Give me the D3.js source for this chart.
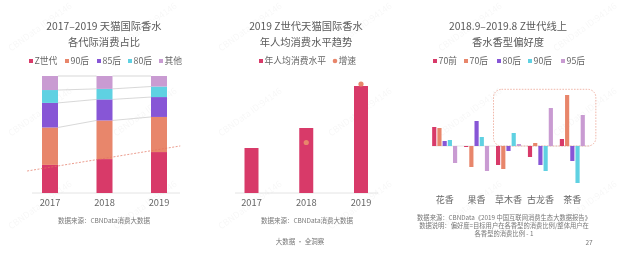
<!DOCTYPE html>
<html>
<head>
<meta charset="utf-8">
<script src="https://cdn.jsdelivr.net/npm/d3@7"></script>
<style>
  html, body { margin: 0; padding: 0; background: #fff; }
  svg { display: block; font-family: "Noto Sans CJK SC", "Noto Sans", sans-serif; }
</style>
</head>
<body>
<svg id="chart" width="625" height="255"></svg>
<script>
// ---- panel 1: share of consumption by generation (%)
const years = [2017, 2018, 2019]
const genNames = ["Z世代", "90后", "85后", "80后", "其他"]
const genZ = [24, 29, 35]
const gen90 = [32, 33, 30]
const gen85 = [21, 18, 17]
const gen80 = [11, 9, 9]
const genOther = [12, 11, 9]
const trendYears = [2016.58, 2019.39]   // red dashed trend line ends
const trendVals = [18.8, 40.2]

// ---- panel 2: per capita spend (index) and growth
const spendNames = ["年人均消费水平", "增速"]
const perCapita = [45, 65, 107]
const growth = [null, 0.44, 0.66]

// ---- panel 3: scent preference by age group
const scents = ["花香", "果香", "草木香", "古龙香", "茶香"]
const ageNames = ["70前", "70后", "80后", "90后", "95后"]
const pre70 = [0.19, -0.01, -0.19, -0.11, 0.07]
const post70 = [0.18, -0.21, -0.23, 0.03, 0.51]
const post80 = [0.05, 0.25, -0.05, -0.19, -0.15]
const post90 = [0.06, 0.09, 0.13, -0.25, -0.37]
const post95 = [-0.17, -0.25, 0.02, 0.38, 0.31]

const c5 = ["#d83a69", "#e8866b", "#8756d6", "#5fd1e2", "#c99bd2"]
const textCol = "#5a5a5a"

const svg = d3.select("#chart")
svg.append("rect").attr("width", 625).attr("height", 255).attr("fill", "#fff")

// faint watermarks
const wmX = [40, 145, 250, 360, 470, 585]
const wmY = [27, 112, 205]
const wm = svg.append("g").attr("fill", "#000").attr("opacity", 0.035)
    .style("font-size", "9px")
wmY.forEach(y => wmX.forEach(x => {
    wm.append("text")
        .attr("text-anchor", "middle")
        .attr("dy", "0.35em")
        .attr("transform", `translate(${x},${y}) rotate(-36)`)
        .text("CBNData ID:94146")
}))

function titles(cx, lines){
    lines.forEach((t, i) => {
        svg.append("text")
            .attr("x", cx).attr("y", 26 + i * 16)
            .attr("dy", "0.35em")
            .attr("text-anchor", "middle")
            .attr("fill", textCol)
            .style("font-size", "10.3px")
            .text(t)
    })
}

function legend(items, xs, shapes){
    items.forEach((name, i) => {
        const g = svg.append("g").attr("transform", `translate(${xs[i]},61)`)
        if(shapes && shapes[i] == "circle"){
            g.append("circle").attr("cx", 2).attr("cy", 0).attr("r", 2.3).attr("fill", shapes.colors[i])
        }else{
            g.append("rect").attr("x", 0).attr("y", -2).attr("width", 4).attr("height", 4)
                .attr("fill", shapes ? shapes.colors[i] : c5[i])
        }
        g.append("text").attr("x", 5.5).attr("dy", "0.35em")
            .attr("fill", "#666").style("font-size", "8.8px").text(name)
    })
}

function note(x, y, t, anchor, size){
    svg.append("text").attr("x", x).attr("y", y).attr("dy", "0.35em")
        .attr("text-anchor", anchor || "middle")
        .attr("fill", "#777").style("font-size", (size || 6.5) + "px").text(t)
}

// ================= panel 1
titles(104, ["2017–2019 天猫国际香水", "各代际消费占比"])
legend(genNames, [29, 65, 97, 128, 159])

const x1 = d3.scaleLinear().domain([2017, 2019]).range([50, 159])
const y1 = d3.scaleLinear().domain([0, 100]).range([193, 76])
const bw1 = 16

const rows = years.map((yr, i) => ({year: yr, "Z世代": genZ[i], "90后": gen90[i], "85后": gen85[i], "80后": gen80[i], "其他": genOther[i]}))
const stack = d3.stack().keys(genNames)(rows)

svg.append("line").attr("x1", 32).attr("x2", 180).attr("y1", y1(0)).attr("y2", y1(0))
    .attr("stroke", "#ddd").attr("stroke-width", 0.8)

// series lines between bars
const p1 = svg.append("g")
stack.slice(1).forEach(layer => {
    for(let i = 0; i < years.length - 1; i++){
        p1.append("line")
            .attr("x1", x1(years[i]) + bw1 / 2).attr("y1", y1(layer[i][1]))
            .attr("x2", x1(years[i + 1]) - bw1 / 2).attr("y2", y1(layer[i + 1][1]))
            .attr("stroke", "#bdbdbd").attr("stroke-width", 0.6)
    }
})

p1.selectAll("g.layer")
    .data(stack)
    .join("g")
    .attr("fill", (d, i) => c5[i])
    .selectAll("rect")
    .data(d => d)
    .join("rect")
    .attr("x", d => x1(d.data.year) - bw1 / 2)
    .attr("y", d => y1(d[1]))
    .attr("width", bw1)
    .attr("height", d => y1(d[0]) - y1(d[1]))

svg.append("line")
    .attr("x1", x1(trendYears[0])).attr("y1", y1(trendVals[0]))
    .attr("x2", x1(trendYears[1])).attr("y2", y1(trendVals[1]))
    .attr("stroke", "#e2735f").attr("stroke-width", 0.7)
    .attr("stroke-dasharray", "2,1.5")

svg.append("g").selectAll("text").data(years).join("text")
    .attr("x", d => x1(d)).attr("y", 202.5).attr("dy", "0.35em")
    .attr("text-anchor", "middle").attr("fill", "#666").style("font-size", "9.3px")
    .text(d => d)

note(104, 221, "数据来源：CBNData消费大数据")

// ================= panel 2
titles(306, ["2019 Z世代天猫国际香水", "年人均消费水平趋势"])
legend(spendNames, [259, 333], Object.assign(["rect", "circle"], {colors: [c5[0], c5[1]]}))

const x2 = d3.scaleLinear().domain([2017, 2019]).range([251.5, 361])
const y2 = d3.scaleLinear().domain([0, 117]).range([193, 76])
const yg = d3.scaleLinear().domain([0.25, 0.69]).range([193, 76])
const bw2 = 14

svg.append("line").attr("x1", 235).attr("x2", 378).attr("y1", y2(0)).attr("y2", y2(0))
    .attr("stroke", "#ddd").attr("stroke-width", 0.8)

svg.append("g").selectAll("rect").data(perCapita).join("rect")
    .attr("x", (d, i) => x2(years[i]) - bw2 / 2)
    .attr("y", d => y2(d))
    .attr("width", bw2)
    .attr("height", d => y2(0) - y2(d))
    .attr("fill", c5[0])

svg.append("g").selectAll("circle")
    .data(growth.map((g, i) => ({g, year: years[i]})).filter(d => d.g != null))
    .join("circle")
    .attr("cx", d => x2(d.year)).attr("cy", d => yg(d.g))
    .attr("r", 2.6).attr("fill", c5[1])

svg.append("g").selectAll("text").data(years).join("text")
    .attr("x", d => x2(d)).attr("y", 202.5).attr("dy", "0.35em")
    .attr("text-anchor", "middle").attr("fill", "#666").style("font-size", "9.3px")
    .text(d => d)

note(307, 221, "数据来源：CBNData消费大数据")
note(300, 242, "大数据 · 全洞察")

// ================= panel 3
titles(508, ["2018.9–2019.8 Z世代线上", "香水香型偏好度"])
legend(ageNames, [433, 464, 497, 528, 561])

const series3 = [pre70, post70, post80, post90, post95]
const x3 = d3.scaleBand().domain(scents).range([428.7, 588.3])
const xin = d3.scaleBand().domain(ageNames).range([-12.5, 12.5]).paddingInner(0.2)
const y3 = d3.scaleLinear().domain([-0.5, 0.6]).range([196, 86])

svg.append("line").attr("x1", 432).attr("x2", 590).attr("y1", y3(0)).attr("y2", y3(0))
    .attr("stroke", "#e2e2e2").attr("stroke-width", 0.8)

// highlight box around 草木香 .. 茶香
const bx0 = x3("草木香") + x3.bandwidth() / 2 + xin(ageNames[0]) - 2.5
const bx1 = x3("茶香") + x3.bandwidth() / 2 + xin(ageNames[4]) + xin.bandwidth() + 11
const by0 = y3(d3.max(post70)) - 5.7
svg.append("rect")
    .attr("x", bx0).attr("y", by0)
    .attr("width", bx1 - bx0).attr("height", y3(0) - by0)
    .attr("rx", 8).attr("ry", 8)
    .attr("fill", "none").attr("stroke", "#eca696").attr("stroke-width", 0.8)
    .attr("stroke-dasharray", "1.6,1.3")

series3.forEach((vals, si) => {
    svg.append("g").attr("fill", c5[si])
        .selectAll("rect").data(vals).join("rect")
        .attr("x", (d, i) => x3(scents[i]) + x3.bandwidth() / 2 + xin(ageNames[si]))
        .attr("y", d => y3(Math.max(0, d)))
        .attr("width", xin.bandwidth())
        .attr("height", d => Math.abs(y3(d) - y3(0)))
})

svg.append("g").selectAll("text").data(scents).join("text")
    .attr("x", d => x3(d) + x3.bandwidth() / 2).attr("y", 200).attr("dy", "0.35em")
    .attr("text-anchor", "middle").attr("fill", "#666").style("font-size", "9px")
    .text(d => d)

note(504, 218, "数据来源：CBNData《2019 中国互联网消费生态大数据报告》", "middle", 6.3)
note(504, 226, "数据说明：偏好度=目标用户在各香型的消费比例/整体用户在", "middle", 6.3)
note(504, 234, "各香型的消费比例 - 1", "middle", 6.3)
note(589, 243, "27")
</script>
</body>
</html>
